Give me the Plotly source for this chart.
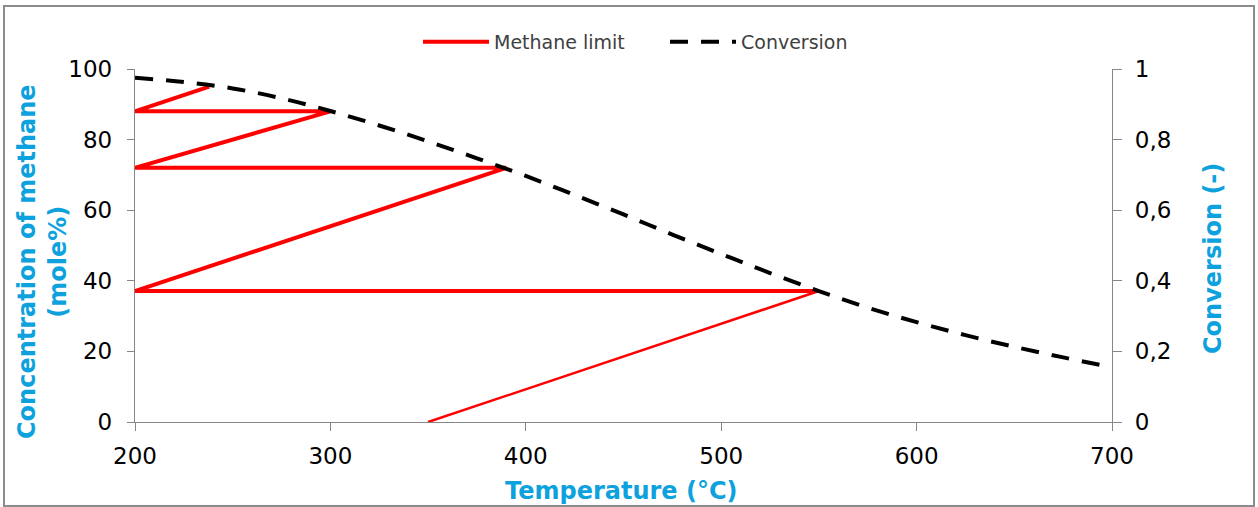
import plotly.graph_objects as go

# Methane limit staircase (temperature °C, concentration mole%)
methane_T = [350, 550, 200, 390, 200, 300, 200, 238]
methane_c = [0, 37.1, 37.1, 72, 72, 88, 88, 95]

# Equilibrium conversion curve
conv_T = [200, 225, 250, 275, 300, 325, 350, 375, 400, 425, 450, 475,
          500, 525, 550, 575, 600, 625, 650, 675, 700]
conv_X = [0.975, 0.963, 0.945, 0.917, 0.881, 0.840, 0.795, 0.747, 0.697,
          0.643, 0.588, 0.531, 0.476, 0.422, 0.371, 0.324, 0.283, 0.246,
          0.213, 0.183, 0.155]

x_ticks = [200, 300, 400, 500, 600, 700]
y_ticks = [0, 20, 40, 60, 80, 100]
y2_ticks = [0, 0.2, 0.4, 0.6, 0.8, 1]

BLUE = "#0DA2DD"
AXIS = "#868686"
FONT = "DejaVu Sans"

fig = go.Figure()
fig.add_trace(go.Scatter(x=methane_T[:2], y=methane_c[:2], mode="lines",
                         line=dict(color="#FF0000", width=2.5),
                         showlegend=False, legendgroup="m"))
fig.add_trace(go.Scatter(x=methane_T[1:], y=methane_c[1:], mode="lines",
                         line=dict(color="#FF0000", width=4),
                         name="Methane limit", legendgroup="m"))
fig.add_trace(go.Scatter(x=conv_T, y=conv_X, mode="lines", yaxis="y2",
                         line=dict(color="#000000", width=4, dash="18px,13px",
                                   shape="spline"),
                         name="Conversion"))

L, R, T, B = 135, 146, 69, 85
W, H = 1258, 507
pw, ph = W - L - R, H - T - B


def px_x(p):
    return (p - L) / pw


def px_y(p):
    return (H - B - p) / ph


fig.update_layout(
    width=W, height=H,
    margin=dict(l=L, r=R, t=T, b=B),
    paper_bgcolor="white", plot_bgcolor="white",
    separators=", ",
    font=dict(family=FONT, color="#000000"),
    legend=dict(orientation="h", x=px_x(418), xanchor="left",
                y=px_y(42), yanchor="middle",
                font=dict(size=19, color="#404040"), itemwidth=66,
                entrywidth=166, entrywidthmode="pixels",
                bgcolor="rgba(0,0,0,0)"),
    xaxis=dict(range=[200, 700], tickvals=x_ticks, showgrid=False, zeroline=False,
               automargin=False,
               showline=True, linecolor=AXIS, linewidth=1.3,
               ticks="outside", ticklen=8, tickcolor=AXIS,
               tickfont=dict(size=23), ticklabelstandoff=5),
    yaxis=dict(range=[0, 100], tickvals=y_ticks, showgrid=False, zeroline=False,
               automargin=False,
               showline=True, linecolor=AXIS, linewidth=1.3,
               ticks="outside", ticklen=7, tickcolor=AXIS,
               tickfont=dict(size=23), ticklabelstandoff=10),
    yaxis2=dict(range=[0, 1], tickvals=y2_ticks, overlaying="y", side="right",
                showgrid=False, zeroline=False, automargin=False,
                showline=True, linecolor=AXIS, linewidth=1.3,
                ticks="outside", ticklen=9, tickcolor=AXIS,
                tickfont=dict(size=23), ticklabelstandoff=8),
    annotations=[
        dict(text="<b>Temperature (°C)</b>",
             xref="paper", yref="paper", x=px_x(621), y=px_y(491),
             xanchor="center", yanchor="middle", showarrow=False,
             font=dict(size=24, color=BLUE)),
        dict(text="<b>Concentration of methane<br>(mole%)</b>", textangle=-90,
             xref="paper", yref="paper", x=px_x(42), y=px_y(262),
             xanchor="center", yanchor="middle", showarrow=False,
             font=dict(size=24, color=BLUE)),
        dict(text="<b>Conversion (-)</b>", textangle=-90,
             xref="paper", yref="paper", x=px_x(1213), y=px_y(259),
             xanchor="center", yanchor="middle", showarrow=False,
             font=dict(size=24, color=BLUE)),
    ],
    shapes=[dict(type="rect", xref="paper", yref="paper",
                 x0=px_x(4), x1=px_x(1254), y0=px_y(506), y1=px_y(6),
                 line=dict(color="#8C8C8C", width=2), layer="below")],
)

fig.write_html("out.html", config={"displayModeBar": False},
               post_script="document.body.style.margin='0';")
